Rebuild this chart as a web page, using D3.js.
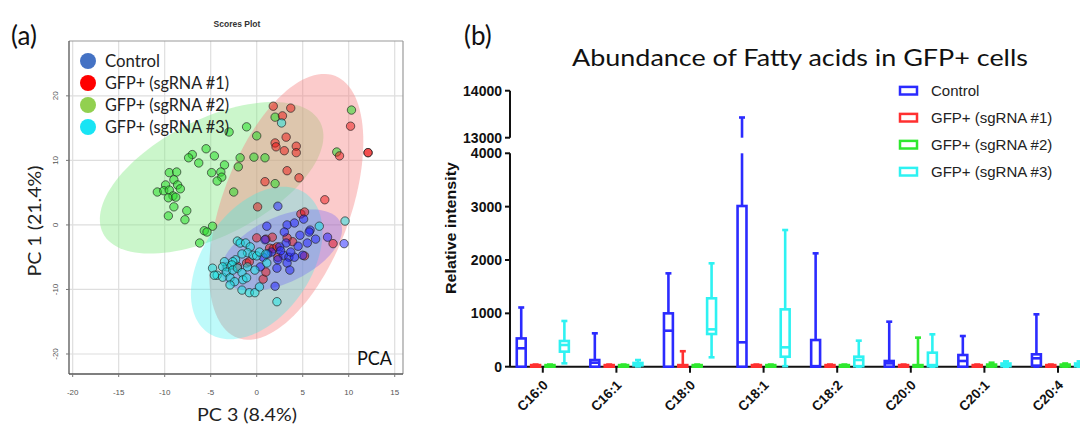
<!DOCTYPE html>
<html><head><meta charset="utf-8">
<script src="https://cdn.jsdelivr.net/npm/d3@7"></script>
<style>body{margin:0;background:#fff}svg{display:block}</style>
</head><body><svg id="c" width="1080" height="427"></svg>
<script>
// ---------- Panel (a): PCA scores (PC3, PC1) ----------
const groupNames = ["Control", "GFP+ (sgRNA #1)", "GFP+ (sgRNA #2)", "GFP+ (sgRNA #3)"];
const controlPts = [[2.3,2.9],[5.1,0.9],[1.1,-0.2],[3.3,0],[4.1,0.3],[5.8,-0.8],[3.0,-1.1],[5.7,-1.1],[6.4,-2.2],[7.7,-1.9],[9.5,-2.9],[5.5,-2.8],[3.2,-2.8],[2.5,-3.4],[2.9,-4.7],[3.5,-5.0],[4.1,-5.0],[5.0,-4.7],[2.3,-5.4],[2.2,-6.7],[3.3,-5.9],[3.6,-7.0],[2.0,-9.5],[0.4,-6.5],[0.9,-2.3],[1.6,-4.2],[4.5,-3.3],[4.7,-1.6],[1.2,-4.5],[2.6,-4.0],[3.7,-4.2],[0.7,-5.0]];
const sg1Pts = [[1.8,18.4],[3.7,18.1],[2.8,16.9],[3.2,13.6],[2.0,12.7],[2.1,12.1],[3.0,11.5],[4.3,12.2],[4.3,11.2],[10.2,15.3],[12.1,11.2],[12.1,11.2],[9.0,10.7],[3.3,8.4],[4.6,7.3],[0.9,6.7],[7.4,3.9],[0.1,2.8],[4.8,1.7],[5.2,2.0],[8.3,-2.9],[3.9,-2.6],[1.7,-1.9],[0,-2.0],[1.0,-2.2],[3.3,-2.0],[1.4,-3.6],[1.8,-3.7],[2.2,-3.4],[5.2,-4.8],[0.7,-8.4],[1.0,-7.3],[-1.1,-5.9],[-2.1,-6.4],[-0.8,-5.7],[2.3,-5.0]];
const sg2Pts = [[10.3,17.8],[2.0,16.7],[-3.0,14.4],[-1.1,15.2],[0,13.8],[-5.5,11.8],[-7.0,10.9],[-7.4,10.4],[-6.3,9.6],[-4.6,10.7],[-3.5,9.3],[-1.8,10.4],[-2.0,9.0],[-0.3,10.5],[0.9,10.4],[-4.9,8.1],[-3.9,8.2],[-3.8,7.4],[-4.3,6.8],[8.7,11.3],[2.0,6.4],[-2.5,5.1],[-9.5,8.1],[-8.7,8.2],[-9.0,7.0],[-9.9,6.2],[-10.8,5.1],[-10.1,5.3],[-9.5,5.4],[-8.6,6.2],[-8.3,5.6],[-9.1,4.5],[-9.6,4.2],[-8.8,4.3],[-9.0,2.8],[-7.6,2.2],[-9.6,1.4],[-7.8,0.8],[-4.8,-0.2],[-5.7,-0.9],[-5.4,-1.1],[-6.2,-2.8]];
const sg3Pts = [[2.7,15.8],[6.8,-0.2],[9.6,0.6],[-2.1,-2.5],[-1.8,-2.8],[-1.2,-2.8],[-0.7,-3.4],[-1.0,-4.3],[-0.4,-4.7],[0,-4.8],[0.3,-4.2],[1.0,-4.5],[-1.6,-4.5],[-2.3,-5.4],[-2.6,-5.7],[-3.2,-6.5],[-3.5,-5.7],[-2.7,-6.2],[-3.7,-6.5],[-4.8,-6.7],[-4.3,-7.8],[-3.7,-8.1],[-3.3,-7.3],[-2.9,-8.2],[-2.6,-7.0],[-2.1,-6.7],[-1.6,-7.4],[-1.5,-8.5],[-1.1,-8.2],[-2.4,-8.8],[-2.9,-9.3],[-1.6,-10.1],[-0.8,-10.5],[-0.2,-10.5],[0.3,-9.6],[-1.0,-6.5],[-0.2,-7.0],[1.1,-5.9],[2.2,-11.9],[-4.6,-7.8]];
// 95% confidence ellipses: centre and two conjugate semi-axis vectors, in data units
const ellipseControl = {c:[2.7,-3.9], u:[6.4,4.3], v:[1.5,-4.6]};
const ellipseSg1 = {c:[3.2,2.8], u:[5.3,20.3], v:[6.5,-3.5]};
const ellipseSg2 = {c:[-4.9,7.3], u:[11.8,8.6], v:[2.9,-8.0]};
const ellipseSg3 = {c:[0,-5.9], u:[5.3,10.8], v:[4.8,-4.8]};
const xTicksA = [-20,-15,-10,-5,0,5,10,15];
const yTicksA = [-20,-10,0,10,20];

// ---------- Panel (b): box plots [min, q1, median, q3, max] ----------
const categories = ["C16:0","C16:1","C18:0","C18:1","C18:2","C20:0","C20:1","C20:4"];
const seriesNames = ["Control","GFP+ (sgRNA #1)","GFP+ (sgRNA #2)","GFP+ (sgRNA #3)"];
const controlBox = [[0,0,345,530,1110],[0,0,75,125,626],[0,0,675,1000,1750],[0,0,457,3012,13430],[0,0,10,500,2125],[0,0,63,107,844],[0,0,107,219,575],[0,20,157,232,982]];
const sg1Box = [[0,0,10,30,40],[0,0,10,30,40],[0,0,10,30,290],[0,0,10,30,40],[0,0,10,30,40],[0,0,10,30,40],[0,0,10,30,40],[0,0,10,30,40]];
const sg2Box = [[0,0,10,30,40],[0,0,10,30,40],[0,0,10,30,40],[0,0,10,30,40],[0,0,10,30,40],[0,0,10,30,545],[0,5,20,40,75],[0,5,20,40,60]];
const sg3Box = [[63,282,407,482,857],[5,25,45,70,125],[176,613,700,1282,1938],[10,187,363,1075,2562],[0,10,126,188,488],[0,10,30,263,607],[0,10,40,60,100],[0,10,40,60,100]];
const yTicksLow = [0,1000,2000,3000,4000];
const yTicksHigh = [13000,14000];

const svg = d3.select("#c");
const calibri = "Lato, 'Open Sans', sans-serif";
const arial = "'Liberation Sans', Arial, sans-serif";

// ===== Panel (a) =====
const A = {l:69, r:403, t:41, b:374};
const xA = d3.scaleLinear().domain([-20.4, 15.9]).range([A.l, A.r]);
const yA = d3.scaleLinear().domain([-23.1, 28.5]).range([A.b, A.t]);
const gA = svg.append("g");

gA.append("text").attr("x",11).attr("y",45).attr("font-family",calibri).attr("font-size",26).attr("fill","#111").text("(a)");
gA.append("text").attr("x",237).attr("y",27).attr("text-anchor","middle").attr("font-family",arial).attr("font-weight","bold").attr("font-size",8.5).attr("fill","#333").text("Scores Plot");

// grid
gA.selectAll(".gx").data(xTicksA).join("line").attr("x1",d=>xA(d)).attr("x2",d=>xA(d)).attr("y1",A.t).attr("y2",A.b).attr("stroke","#dedede").attr("stroke-width",1.2);
gA.selectAll(".gy").data(yTicksA).join("line").attr("y1",d=>yA(d)).attr("y2",d=>yA(d)).attr("x1",A.l).attr("x2",A.r).attr("stroke","#dedede").attr("stroke-width",1.2);

// ellipses
function ellipsePath(e){
  const ts = d3.range(0, 2*Math.PI, Math.PI/60);
  return d3.line().curve(d3.curveLinearClosed)
    .x(t=>xA(e.c[0] + Math.cos(t)*e.u[0] + Math.sin(t)*e.v[0]))
    .y(t=>yA(e.c[1] + Math.cos(t)*e.u[1] + Math.sin(t)*e.v[1]))(ts);
}
const ellipses = [
  {e:ellipseSg2, fill:"rgb(140,235,140)", op:0.45},
  {e:ellipseSg1, fill:"rgb(245,130,130)", op:0.42},
  {e:ellipseSg3, fill:"rgb(40,240,240)", op:0.3},
  {e:ellipseControl, fill:"rgb(90,80,255)", op:0.28}
];
gA.selectAll(".ell").data(ellipses).join("path").attr("d",d=>ellipsePath(d.e)).attr("fill",d=>d.fill).attr("fill-opacity",d=>d.op);

// points
const ptGroups = [
  {pts:sg2Pts, fill:"rgb(40,220,40)", op:0.55},
  {pts:sg1Pts, fill:"rgb(240,20,20)", op:0.5},
  {pts:controlPts, fill:"rgb(30,30,255)", op:0.5},
  {pts:sg3Pts, fill:"rgb(20,230,230)", op:0.5}
];
ptGroups.forEach(g=>{
  gA.append("g").selectAll("circle").data(g.pts).join("circle")
    .attr("cx",d=>xA(d[0])).attr("cy",d=>yA(d[1])).attr("r",4.2)
    .attr("fill",g.fill).attr("fill-opacity",g.op)
    .attr("stroke","#222").attr("stroke-opacity",0.85).attr("stroke-width",0.8);
});

// frame
gA.append("line").attr("x1",A.l).attr("x2",A.r).attr("y1",A.t).attr("y2",A.t).attr("stroke","#9a9a9a").attr("stroke-width",1.2);
gA.append("line").attr("x1",A.r).attr("x2",A.r).attr("y1",A.t).attr("y2",A.b).attr("stroke","#9a9a9a").attr("stroke-width",1.2);
gA.append("line").attr("x1",A.l).attr("x2",A.l).attr("y1",A.t).attr("y2",A.b).attr("stroke","#555").attr("stroke-width",1.3);
gA.append("line").attr("x1",A.l).attr("x2",A.r).attr("y1",A.b).attr("y2",A.b).attr("stroke","#555").attr("stroke-width",1.3);
// ticks
gA.selectAll(".tx").data(xTicksA).join("line").attr("x1",d=>xA(d)).attr("x2",d=>xA(d)).attr("y1",A.b).attr("y2",A.b+3).attr("stroke","#777");
gA.selectAll(".ty").data(yTicksA).join("line").attr("y1",d=>yA(d)).attr("y2",d=>yA(d)).attr("x1",A.l-3).attr("x2",A.l).attr("stroke","#777");
gA.selectAll(".lx").data(xTicksA).join("text").attr("x",d=>xA(d)).attr("y",395).attr("text-anchor","middle").attr("font-family",arial).attr("font-size",8).attr("fill","#555").text(d=>d);
gA.selectAll(".ly").data(yTicksA).join("text").attr("transform",d=>`translate(58,${yA(d)}) rotate(-90)`).attr("text-anchor","middle").attr("font-family",arial).attr("font-size",8).attr("fill","#555").text(d=>d);

// axis titles
gA.append("text").attr("transform","translate(41,221) rotate(-90)").attr("text-anchor","middle").attr("font-family",calibri).attr("font-size",18).attr("fill","#222").attr("textLength",111).attr("lengthAdjust","spacingAndGlyphs").text("PC 1 (21.4%)");
gA.append("text").attr("x",247).attr("y",421).attr("text-anchor","middle").attr("font-family",calibri).attr("font-size",18).attr("fill","#222").attr("textLength",100).attr("lengthAdjust","spacingAndGlyphs").text("PC 3 (8.4%)");
gA.append("text").attr("x",357).attr("y",365).attr("font-family",calibri).attr("font-size",18.5).attr("fill","#111").attr("textLength",35).attr("lengthAdjust","spacingAndGlyphs").text("PCA");

// legend (a)
const legColA = ["#4472C4","#FF0000","#92D050","#18E4F4"];
const legA = gA.selectAll(".lga").data(groupNames).join("g").attr("transform",(d,i)=>`translate(88,${61+i*22})`);
legA.append("circle").attr("r",8).attr("fill",(d,i)=>legColA[i]);
legA.append("text").attr("x",17).attr("y",6).attr("font-family",calibri).attr("font-size",17).attr("fill","#222")
  .attr("textLength",(d,i)=> i===0 ? 55 : 124).attr("lengthAdjust","spacingAndGlyphs").text(d=>d);

// ===== Panel (b) =====
const gB = svg.append("g");
const axX = 510;
const yLow = d3.scaleLinear().domain([0,4000]).range([366.7,153.3]);
const yHigh = d3.scaleLinear().domain([13000,14000]).range([137.7,90.7]);
const yB = v => v <= 4000 ? yLow(v) : yHigh(v);
const x0 = d3.scaleBand().domain(categories).range([506, 506+73.6*categories.length]).paddingInner(0).paddingOuter(0);
const x1 = d3.scaleBand().domain(seriesNames).range([-31.5, 31.5]).padding(0.38);
const colB = ["#2b2bff","#ff3030","#2ee82e","#2ef2f2"];

gB.append("text").attr("x",464).attr("y",45).attr("font-family",calibri).attr("font-size",26).attr("fill","#111").text("(b)");
gB.append("text").attr("x",572).attr("y",66).attr("font-family",calibri).attr("font-size",24).attr("fill","#111").attr("textLength",456).attr("lengthAdjust","spacingAndGlyphs").text("Abundance of Fatty acids in GFP+ cells");

// y axis (broken)
gB.append("line").attr("x1",axX).attr("x2",axX).attr("y1",yLow(0)).attr("y2",yLow(4000)).attr("stroke","#111").attr("stroke-width",2);
gB.append("line").attr("x1",axX).attr("x2",axX).attr("y1",yHigh(13000)).attr("y2",yHigh(14000)).attr("stroke","#111").attr("stroke-width",2);
const yTickData = yTicksLow.map(v=>({v, y:yLow(v)})).concat(yTicksHigh.map(v=>({v, y:yHigh(v)})));
gB.selectAll(".ytb").data(yTickData).join("line").attr("x1",axX-5).attr("x2",axX).attr("y1",d=>d.y).attr("y2",d=>d.y).attr("stroke","#111").attr("stroke-width",2);
gB.selectAll(".ylb").data(yTickData).join("text").attr("x",axX-8).attr("y",d=>d.y+5).attr("text-anchor","end").attr("font-family",arial).attr("font-weight","bold").attr("font-size",14).attr("fill","#111").text(d=>d.v);
gB.append("text").attr("transform","translate(456,228) rotate(-90)").attr("text-anchor","middle").attr("font-family",arial).attr("font-weight","bold").attr("font-size",15).attr("fill","#111").attr("textLength",132).attr("lengthAdjust","spacingAndGlyphs").text("Relative intensity");

// x axis
gB.append("line").attr("x1",axX).attr("x2",1080).attr("y1",yLow(0)).attr("y2",yLow(0)).attr("stroke","#111").attr("stroke-width",2);
const catCenter = c => x0(c) + x0.bandwidth()/2;
gB.selectAll(".xtb").data(categories).join("line").attr("x1",d=>catCenter(d)).attr("x2",d=>catCenter(d)).attr("y1",yLow(0)).attr("y2",yLow(0)+6).attr("stroke","#111").attr("stroke-width",2);
gB.selectAll(".xlb").data(categories).join("text").attr("transform",d=>`translate(${catCenter(d)+6},${386}) rotate(-45)`).attr("text-anchor","end").attr("font-family",arial).attr("font-weight","bold").attr("font-size",13.5).attr("fill","#111").text(d=>d);

// boxes
const allBoxes = [controlBox, sg1Box, sg2Box, sg3Box];
allBoxes.forEach((series, si)=>{
  const col = colB[si];
  const g = gB.append("g").attr("stroke",col).attr("stroke-width",2.6).attr("fill","none");
  series.forEach((b, ci)=>{
    const cx = catCenter(categories[ci]) + x1(seriesNames[si]) + x1.bandwidth()/2;
    const w = x1.bandwidth();
    const [mn,q1,md,q3,mx] = b;
    if (mx > 4000) {
      g.append("line").attr("x1",cx).attr("x2",cx).attr("y1",yLow(q3)).attr("y2",yLow(4000));
      g.append("line").attr("x1",cx).attr("x2",cx).attr("y1",yHigh(13000)).attr("y2",yHigh(mx));
    } else {
      g.append("line").attr("x1",cx).attr("x2",cx).attr("y1",yB(q3)).attr("y2",yB(mx));
    }
    g.append("line").attr("x1",cx).attr("x2",cx).attr("y1",yB(q1)).attr("y2",yB(mn));
    g.append("line").attr("x1",cx-3).attr("x2",cx+3).attr("y1",yB(mx)).attr("y2",yB(mx));
    g.append("line").attr("x1",cx-3).attr("x2",cx+3).attr("y1",yB(mn)).attr("y2",yB(mn));
    g.append("rect").attr("x",cx-w/2).attr("width",w).attr("y",yB(q3)).attr("height",Math.max(0.5,yB(q1)-yB(q3))).attr("fill","#fff");
    g.append("line").attr("x1",cx-w/2).attr("x2",cx+w/2).attr("y1",yB(md)).attr("y2",yB(md));
  });
});

// legend (b)
const legB = gB.selectAll(".lgb").data(seriesNames).join("g").attr("transform",(d,i)=>`translate(900,${90.7+i*27})`);
legB.append("rect").attr("x",0).attr("y",-3.8).attr("width",17).attr("height",7.6).attr("fill","#fff").attr("stroke",(d,i)=>colB[i]).attr("stroke-width",2.5);
legB.append("text").attr("x",31).attr("y",5.5).attr("font-family",arial).attr("font-size",15).attr("fill","#222").text(d=>d);
</script></body></html>
